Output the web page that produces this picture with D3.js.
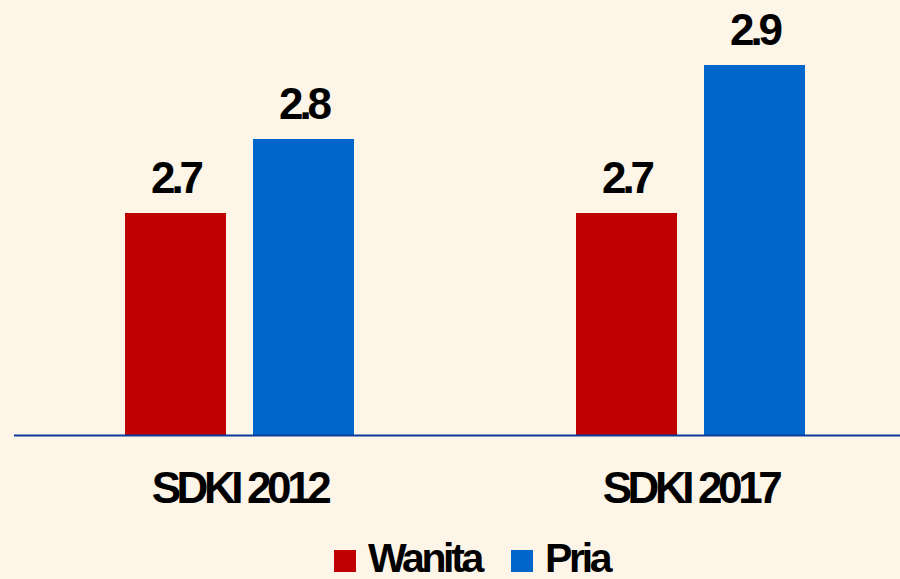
<!doctype html>
<html>
<head>
<meta charset="UTF-8">
<script src="https://d3js.org/d3.v7.min.js"></script>
<style>
  body { margin: 0; background: #fcf5e8; }
  svg { display: block; }
  text { font-family: "Liberation Sans", Arial, sans-serif; font-weight: bold; fill: #000; }
</style>
</head>
<body>
<script>
// data
const surveys = ["SDKI 2012", "SDKI 2017"];
const seriesNames = ["Wanita", "Pria"];
const wanita = [2.7, 2.7];
const pria = [2.8, 2.9];
const seriesColors = ["#c00000", "#0066cc"];

const width = 900, height = 579;
const baseY = 435;

const svg = d3.select("body").append("svg")
    .attr("width", width)
    .attr("height", height);

svg.append("rect")
    .attr("width", width)
    .attr("height", height)
    .attr("fill", "#fcf5e8");

let rows = surveys.map(function(s, i){
    return {survey: s, values: [wanita[i], pria[i]]};
});

let x0 = d3.scaleBand().domain(surveys).range([14, 916]);
let x1 = d3.scaleBand().domain(seriesNames).range([0, 229]).paddingInner(27 / 128);
let y = d3.scaleLinear().domain([2.4, 2.9]).range([baseY, 65]);

let groups = svg.selectAll(".grp")
    .data(rows)
    .enter().append("g")
      .attr("class", "grp")
      .attr("transform", function(d){ return "translate(" + (x0(d.survey) + x0.bandwidth() / 2 - 114.5) + ",0)"; });

groups.selectAll("rect")
    .data(function(d){ return d.values.map(function(v, j){ return {name: seriesNames[j], value: v, color: seriesColors[j]}; }); })
    .enter().append("rect")
      .attr("x", function(d){ return x1(d.name); })
      .attr("y", function(d){ return y(d.value); })
      .attr("width", x1.bandwidth())
      .attr("height", function(d){ return baseY - y(d.value); })
      .attr("fill", function(d){ return d.color; });

groups.selectAll(".val")
    .data(function(d){ return d.values.map(function(v, j){ return {name: seriesNames[j], value: v}; }); })
    .enter().append("text")
      .attr("class", "val")
      .attr("x", function(d){ return x1(d.name) + x1.bandwidth() / 2; })
      .attr("y", function(d){ return y(d.value) - 20; })
      .attr("text-anchor", "middle")
      .style("font-size", "44px")
      .style("letter-spacing", "-4px")
      .text(function(d){ return d.value.toFixed(1); });

// baseline
svg.append("line")
    .attr("x1", 14).attr("x2", 900)
    .attr("y1", baseY + 0.5).attr("y2", baseY + 0.5)
    .attr("stroke", "#0a3a9c")
    .attr("stroke-width", 2);

// category labels
svg.selectAll(".cat")
    .data(surveys)
    .enter().append("text")
      .attr("class", "cat")
      .attr("x", function(d){ return x0(d) + x0.bandwidth() / 2; })
      .attr("y", 503)
      .attr("text-anchor", "middle")
      .style("font-size", "44px")
      .style("letter-spacing", "-4.4px")
      .text(function(d){ return d; });

// legend
let legendX = [334, 511];
let legend = svg.selectAll(".leg")
    .data(seriesNames)
    .enter().append("g")
      .attr("class", "leg")
      .attr("transform", function(d, i){ return "translate(" + legendX[i] + ",550)"; });

legend.append("rect")
    .attr("width", 22)
    .attr("height", 22)
    .attr("fill", function(d, i){ return seriesColors[i]; });

legend.append("text")
    .attr("x", 34)
    .attr("y", 22)
    .style("font-size", "41px")
    .style("letter-spacing", "-3.3px")
    .text(function(d){ return d; });
</script>
</body>
</html>
